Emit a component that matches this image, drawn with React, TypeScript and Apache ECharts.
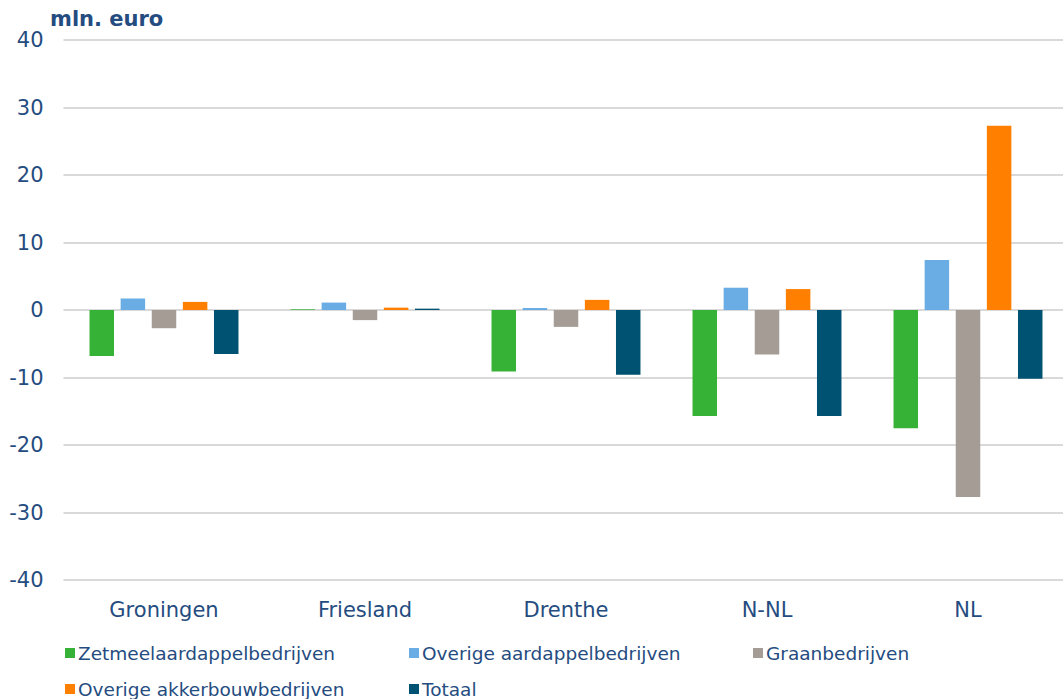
import React, { useEffect, useRef } from "react";
import * as echarts from "echarts";

const categories = ["Groningen", "Friesland", "Drenthe", "N-NL", "NL"];
const seriesNames = [
  "Zetmeelaardappelbedrijven",
  "Overige aardappelbedrijven",
  "Graanbedrijven",
  "Overige akkerbouwbedrijven",
  "Totaal",
];
const zetmeel = [-6.8, 0.1, -9.1, -15.7, -17.5];
const overigeAardappel = [1.7, 1.1, 0.3, 3.3, 7.4];
const graan = [-2.7, -1.5, -2.5, -6.6, -27.7];
const overigeAkkerbouw = [1.2, 0.35, 1.5, 3.1, 27.3];
const totaal = [-6.5, 0.2, -9.6, -15.7, -10.2];
const colors = ["#36B336", "#6AADE4", "#A59D95", "#FF7F00", "#005272"];
const yTicks = { min: -40, max: 40, interval: 10 };

const TEXT = "#254C80";
const FONT = "DejaVu Sans";

export default function App() {
  const ref = useRef<HTMLDivElement>(null);
  useEffect(() => {
    document.body.style.margin = "0";
    document.body.style.overflow = "hidden";
    if (!ref.current) return;
    const chart = echarts.init(ref.current, null, { renderer: "svg" });
    const data = [zetmeel, overigeAardappel, graan, overigeAkkerbouw, totaal];
    chart.setOption({
      animation: false,
      backgroundColor: "#ffffff",
      title: {
        text: "mln. euro",
        left: 45,
        top: 3,
        textStyle: { fontFamily: FONT, fontSize: 21, fontWeight: "bold", color: TEXT },
      },
      grid: { left: 63.5, top: 40, width: 1005, height: 540, containLabel: false },
      legend: {
        left: 60,
        top: 630,
        width: 1050,
        itemWidth: 10,
        itemHeight: 10,
        itemGap: 0,
        icon: "rect",
        data: seriesNames,
        textStyle: {
          fontFamily: FONT,
          fontSize: 18.5,
          color: TEXT,
          width: 331,
          lineHeight: 36,
          padding: [0, 0, 0, -2],
        },
      },
      xAxis: {
        type: "category",
        data: categories,
        axisLine: { show: false },
        axisTick: { show: false },
        axisLabel: { fontFamily: FONT, fontSize: 21, color: TEXT, margin: 19 },
      },
      yAxis: {
        type: "value",
        min: yTicks.min,
        max: yTicks.max,
        interval: yTicks.interval,
        axisLine: { show: false },
        axisTick: { show: false },
        axisLabel: { fontFamily: FONT, fontSize: 21, color: TEXT, margin: 20 },
        splitLine: { lineStyle: { color: "#D9D9D9", width: 2 } },
      },
      series: seriesNames.map((name, i) => ({
        name,
        type: "bar",
        data: data[i],
        barWidth: 24.5,
        barGap: "27%",
        itemStyle: { color: colors[i] },
      })),
    });
    return () => chart.dispose();
  }, []);
  return <div ref={ref} style={{ width: 1075, height: 699 }} />;
}
